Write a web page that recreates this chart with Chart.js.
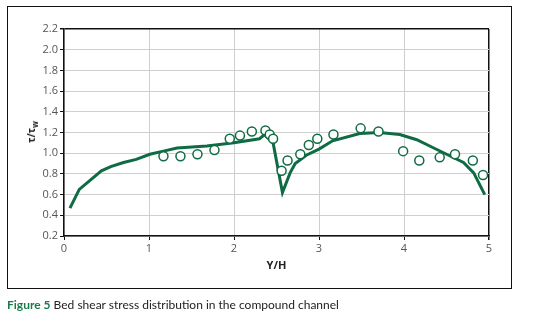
<!DOCTYPE html>
<html>
<head>
<meta charset="utf-8">
<script src="https://cdn.jsdelivr.net/npm/chart.js@4/dist/chart.umd.min.js"></script>
<style>
  body { margin: 0; background: #fff; width: 546px; height: 321px; position: relative; overflow: hidden; font-family: "Open Sans", "DejaVu Sans", sans-serif; }
  #frame { position: absolute; left: 7px; top: 6px; width: 503px; height: 281px; border: 1.5px solid #111; }
  #wrap { position: absolute; left: 0; top: 0; width: 546px; height: 321px; }
  #ytitle { position: absolute; left: 32px; top: 132px; transform: translate(-50%, -50%) rotate(-90deg); font-size: 10px; font-weight: bold; color: #222; white-space: nowrap; }
  #ytitle sub { font-size: 8px; }
  #caption { position: absolute; left: 7px; top: 297px; font-family: Lato, "Open Sans", sans-serif; font-size: 12px; color: #222; white-space: nowrap; }
  #caption b { color: #1b7a4a; }
</style>
</head>
<body>
<div id="frame"></div>
<div id="wrap"><canvas id="chart" width="546" height="321"></canvas></div>
<div id="ytitle">τ/τ<sub>w</sub></div>
<div id="caption"><b>Figure 5</b> Bed shear stress distribution in the compound channel</div>
<script>
// simulated profile (solid line)
const lineX = [0.07, 0.18, 0.44, 0.55, 0.70, 0.85, 1.01, 1.17, 1.33, 1.68, 2.00, 2.30, 2.36, 2.46, 2.57, 2.66, 2.72, 2.85, 3.00, 3.16, 3.48, 3.71, 3.95, 4.15, 4.35, 4.70, 4.82, 4.95];
const lineY = [0.47, 0.65, 0.83, 0.87, 0.91, 0.94, 0.99, 1.02, 1.05, 1.07, 1.10, 1.14, 1.18, 1.10, 0.62, 0.81, 0.90, 0.98, 1.04, 1.12, 1.19, 1.20, 1.18, 1.13, 1.05, 0.91, 0.81, 0.60];

// measured values (open circles)
const measX = [1.17, 1.37, 1.57, 1.77, 1.95, 2.07, 2.21, 2.37, 2.42, 2.46, 2.56, 2.63, 2.78, 2.88, 2.98, 3.17, 3.49, 3.70, 3.99, 4.18, 4.42, 4.60, 4.81, 4.93];
const measY = [0.97, 0.97, 0.99, 1.03, 1.14, 1.17, 1.21, 1.22, 1.18, 1.14, 0.83, 0.93, 0.99, 1.08, 1.14, 1.18, 1.24, 1.21, 1.02, 0.93, 0.96, 0.99, 0.93, 0.79];

const xTitle = 'Y/H';
const green = '#0f6b43';

const linePts = lineX.map((x, i) => ({ x: x, y: lineY[i] }));
const measPts = measX.map((x, i) => ({ x: x, y: measY[i] }));

new Chart(document.getElementById('chart'), {
  type: 'scatter',
  data: {
    datasets: [
      {
        data: linePts,
        showLine: true,
        borderColor: green,
        borderWidth: 3,
        pointRadius: 0,
        tension: 0,
        order: 2
      },
      {
        data: measPts,
        showLine: false,
        borderColor: green,
        backgroundColor: '#fff',
        pointBorderWidth: 1.5,
        pointRadius: 4.5,
        order: 1
      }
    ]
  },
  options: {
    responsive: false,
    animation: false,
    devicePixelRatio: 1,
    layout: { padding: { top: 29, right: 57, bottom: 49, left: 0 } },
    plugins: { legend: { display: false }, tooltip: { enabled: false } },
    scales: {
      x: {
        type: 'linear',
        min: 0,
        max: 5,
        ticks: { stepSize: 1, color: '#555', font: { family: 'Open Sans', size: 11 }, padding: 2 },
        grid: {
          color: ctx => ctx.tick && ctx.tick.value === 5 ? '#111' : '#cfcfcf',
          lineWidth: ctx => ctx.tick && ctx.tick.value === 5 ? 1.5 : 1,
          tickLength: 4,
          tickColor: '#111'
        },
        border: { color: '#111', width: 1.5 },
        title: { display: true, text: xTitle, color: '#222', font: { family: 'Open Sans', size: 11, weight: 'bold' }, padding: { top: 2, bottom: 0 } },
        afterFit: s => { s.height = 36; }
      },
      y: {
        min: 0.2,
        max: 2.2,
        ticks: { stepSize: 0.2, color: '#555', font: { family: 'Open Sans', size: 11 }, padding: 2, callback: v => v.toFixed(1) },
        grid: {
          color: ctx => ctx.tick && Math.abs(ctx.tick.value - 2.2) < 1e-6 ? '#111' : '#cfcfcf',
          lineWidth: ctx => ctx.tick && Math.abs(ctx.tick.value - 2.2) < 1e-6 ? 1.5 : 1,
          tickLength: 4,
          tickColor: '#111'
        },
        border: { color: '#111', width: 1.5 },
        afterFit: s => { s.width = 64; }
      }
    }
  }
});
</script>
</body>
</html>
